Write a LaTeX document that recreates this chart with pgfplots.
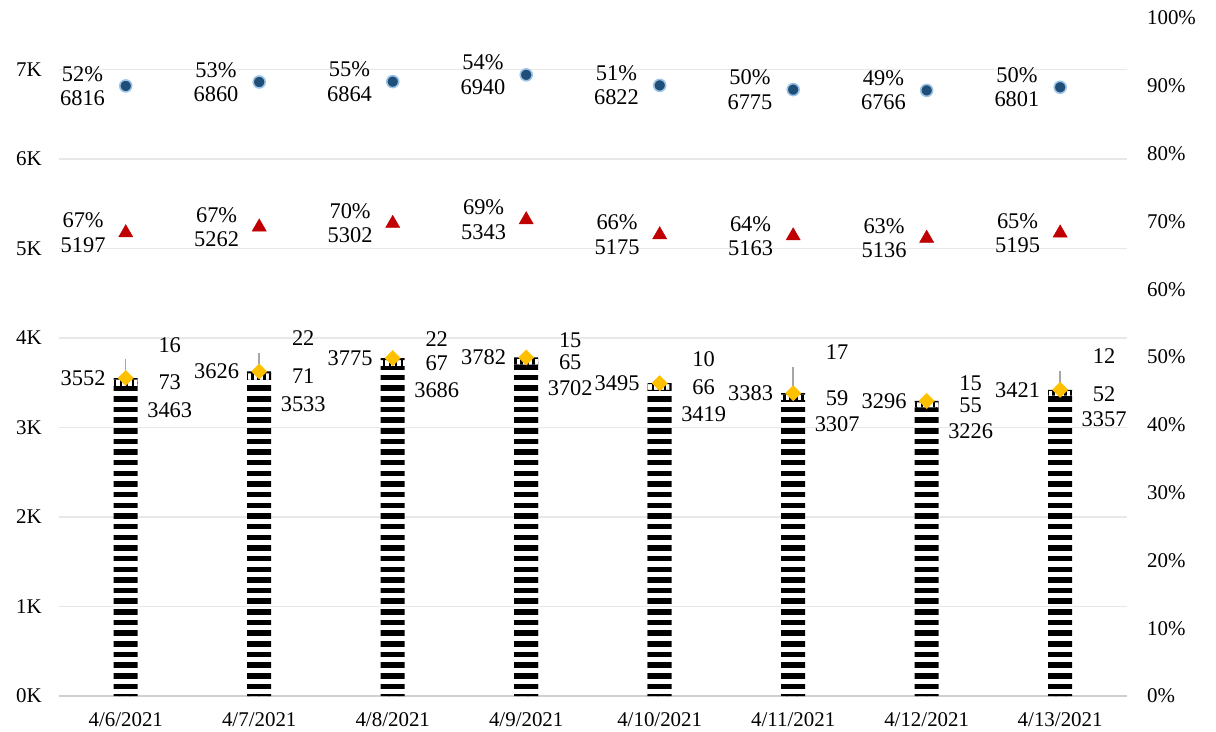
\documentclass[border=0pt]{standalone}
\usepackage{fontspec}
\setmainfont{Liberation Serif}
\usepackage{pgfplots}
\usepackage{pgfplotstable}
\pgfplotsset{compat=1.18}
\usetikzlibrary{patterns}

\definecolor{dotfill}{HTML}{1F4E79}
\definecolor{dotedge}{HTML}{9DC3E6}
\definecolor{tri}{HTML}{C00000}
\definecolor{gold}{HTML}{FFC000}
\definecolor{gridc}{HTML}{E8E8E8}
\definecolor{basec}{HTML}{D0D0D0}
\definecolor{errc}{HTML}{A6A6A6}

% thick horizontal stripes for the main segment
\pgfdeclarepatternformonly{hstripes}{\pgfqpoint{-1pt}{0pt}}{\pgfqpoint{11pt}{10.7pt}}{\pgfqpoint{10pt}{10.7pt}}{%
  \pgfpathrectangle{\pgfqpoint{-1pt}{0pt}}{\pgfqpoint{12pt}{5.6pt}}\pgfusepath{fill}}
% vertical stripes for the small segment
\pgfdeclarepatternformonly{vstripes}{\pgfqpoint{0pt}{-1pt}}{\pgfqpoint{6pt}{11pt}}{\pgfqpoint{6pt}{10pt}}{%
  \pgfpathrectangle{\pgfqpoint{0pt}{-1pt}}{\pgfqpoint{2.6pt}{12pt}}\pgfusepath{fill}}

\newcommand\lf{\fontsize{21}{23}\selectfont}
\newcommand\df{\fontsize{22.5}{24.5}\selectfont}

% x s1 s2 s3 total err dots dot% triangles tri% y of s3 label
\pgfplotstableread{
x s1   s2 s3 tot  err dot  dp tri  tp s3y
0 3463 73 16 3552 210 6816 52 5197 67 3922
1 3533 71 22 3626 205 6860 53 5262 67 3997
2 3686 67 22 3775 0   6864 55 5302 70 3985
3 3702 65 15 3782 0   6940 54 5343 69 3975
4 3419 66 10 3495 0   6822 51 5175 66 3762
5 3307 59 17 3383 296 6775 50 5163 64 3840
6 3226 55 15 3296 0   6766 49 5136 63 3500
7 3357 52 12 3421 213 6801 50 5195 65 3799
}\datatable

\begin{document}
\begin{tikzpicture}
\pgfplotsset{
  base/.style={
    at={(0,0)}, anchor=south west,
    scale only axis, width=1068bp, height=678bp,
    xmin=-0.5, xmax=7.5, ymin=0, ymax=7575,
    major tick length=0,
    tick label style={font=\lf},
  },
}
\begin{axis}[base,
  ybar stacked, bar width=24bp,
  axis x line*=bottom, axis y line*=left,
  x axis line style={basec, line width=1.5bp},
  y axis line style={draw=none},
  ytick={0,1000,...,7000},
  yticklabels={0K,1K,2K,3K,4K,5K,6K,7K},
  yticklabel style={anchor=east, inner sep=0pt, xshift=-17bp},
  xtick={0,...,7},
  xticklabels={4/6/2021,4/7/2021,4/8/2021,4/9/2021,4/10/2021,4/11/2021,4/12/2021,4/13/2021},
  xticklabel style={anchor=north, inner sep=0pt, yshift=-16bp},
  ymajorgrids, grid style={gridc, line width=1.5bp},
]
\addplot[draw=none, pattern=hstripes] table[x=x, y=s1] {\datatable};
\addplot[draw=none, pattern=vstripes] table[x=x, y=s2] {\datatable};
\addplot[draw=none, fill=black] table[x=x, y=s3] {\datatable};
\end{axis}

\begin{axis}[base,
  clip=false,
  axis x line=none, axis y line*=right,
  y axis line style={draw=none},
  ytick={0,757.5,1515,2272.5,3030,3787.5,4545,5302.5,6060,6817.5,7575},
  yticklabels={0\%,10\%,20\%,30\%,40\%,50\%,60\%,70\%,80\%,90\%,100\%},
  yticklabel style={anchor=west, inner sep=0pt, xshift=20bp},
  every node near coord/.append style={font=\df, inner sep=0pt},
  point meta=explicit symbolic,
]
% totals with their gray bars
\addplot[only marks, mark=square*, mark size=5.4bp,
  mark options={rotate=45, fill=gold, draw=gold},
  error bars/.cd, y dir=plus, y explicit, error mark=none,
  error bar style={errc, line width=1.5bp}]
  table[x=x, y=tot, y error=err] {\datatable};
\addplot[draw=none, nodes near coords={\pgfplotspointmeta},
  nodes near coords style={anchor=east, xshift=-20bp}]
  table[x=x, y=tot, meta=tot] {\datatable};
% segment labels
\addplot[draw=none, nodes near coords={\pgfplotspointmeta},
  nodes near coords style={anchor=center, xshift=44bp, yshift=-24bp}]
  table[x=x, y=s1, meta=s1] {\datatable};
\addplot[draw=none, nodes near coords={\pgfplotspointmeta},
  nodes near coords style={anchor=center, xshift=44bp, yshift=-3bp}]
  table[x=x, y expr=\thisrow{s1}+\thisrow{s2}, meta=s2] {\datatable};
\addplot[draw=none, nodes near coords={\pgfplotspointmeta},
  nodes near coords style={anchor=center, xshift=44bp}]
  table[x=x, y=s3y, meta=s3] {\datatable};
% circles
\addplot[only marks, mark=*, mark size=6bp,
  mark options={fill=dotfill, draw=dotedge, line width=1.6bp},
  visualization depends on={\thisrow{dp}\as\pct},
  nodes near coords={\pgfmathprintnumber[assume math mode=true]{\pct}\%\\\pgfplotspointmeta},
  nodes near coords style={anchor=east, align=center, xshift=-20bp}]
  table[x=x, y=dot, meta=dot] {\datatable};
% triangles
\addplot[only marks, mark=triangle*, mark size=8.2bp,
  mark options={fill=tri, draw=tri, yshift=-2bp},
  visualization depends on={\thisrow{tp}\as\pct},
  nodes near coords={\pgfmathprintnumber[assume math mode=true]{\pct}\%\\\pgfplotspointmeta},
  nodes near coords style={anchor=east, align=center, xshift=-20bp}]
  table[x=x, y=tri, meta=tri] {\datatable};
\end{axis}
\pgfresetboundingbox
\path[use as bounding box] (-59bp,-36bp) rectangle (1157bp,696bp);
\end{tikzpicture}
\end{document}
